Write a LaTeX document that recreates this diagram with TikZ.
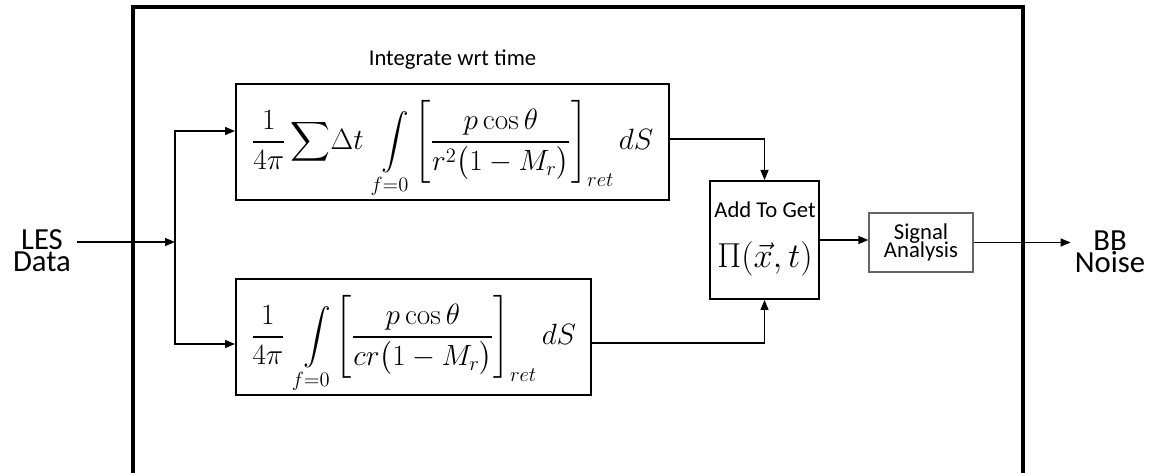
\RequirePackage{fix-cm}
\documentclass[tikz,border=0pt]{standalone}
\usepackage{amsmath}
\usepackage[no-math]{fontspec}
\setmainfont{Carlito}
\usetikzlibrary{arrows.meta,positioning}
\lineskiplimit=-\maxdimen
\tikzset{
  eqbox/.style={rectangle,draw=black,line width=1.5pt,minimum height=87pt,inner sep=0pt,
    text height=37pt,text depth=26pt,font=\fontsize{22}{26}\selectfont},
  sigbox/.style={rectangle,draw=black!60,line width=1pt,minimum width=78pt,minimum height=44.25pt,
    align=center,inner sep=0pt,font=\fontsize{17}{13.5}\selectfont},
  iolabel/.style={align=center,inner sep=0pt,font=\fontsize{23}{16.5}\selectfont},
  arrow/.style={-{Triangle[length=7.5pt,width=6pt]},line width=1pt},
  outerframe/.style={line width=2.5pt}
}

\begin{document}
\begin{tikzpicture}[x=0.75pt,y=-0.75pt]
\useasboundingbox (0,0) rectangle (1151,473);
% open frame
\draw[outerframe] (133,473) -- (133,7) -- (1023,7) -- (1023,473);
% equation blocks
\node[eqbox,minimum width=324.75pt] (sumint) at (452.5,142)
  {$\displaystyle\frac{1}{4\pi}\sum\!\Delta t\;\int\limits_{f=0}\Biggl[\frac{p\cos\theta}{r^{2}\bigl(1-M_{r}\bigr)}\Biggr]_{ret}\,dS$};
\node[eqbox,minimum width=266.25pt] (plainint) at (413.5,337)
  {$\displaystyle\frac{1}{4\pi}\;\int\limits_{f=0}\Biggl[\frac{p\cos\theta}{cr\bigl(1-M_{r}\bigr)}\Biggr]_{ret}\,dS$};
\node[font=\fontsize{17}{20}\selectfont,inner sep=0pt,above=10pt of sumint] (timelbl) {Integrate wrt time};
\node[eqbox,minimum width=81.75pt,minimum height=88.5pt] (addbox) at (764.5,240) {};
\node[anchor=base,inner sep=0pt,font=\fontsize{17}{20}\selectfont] (addlbl) at (765,218) {Add To Get};
\node[anchor=base,inner sep=0pt,font=\fontsize{26}{30}\selectfont] (pilbl) at (765,268) {$\Pi(\vec{x},t)$};
\node[sigbox] (signal) at (921,242.5) {Signal\\Analysis};
% input and output
\node[iolabel,inner sep=4.5pt] (lesdata) at (42,251) {LES\\Data};
\node[iolabel,inner sep=3pt] (bbnoise) at (1110,252) {BB\\Noise};
\coordinate (split) at (175,242);
\coordinate (in1) at ([yshift=8.25pt]sumint.west);
\coordinate (in2) at ([yshift=-5.25pt]plainint.west);
\coordinate (out1) at ([yshift=2.25pt]sumint.east);
\coordinate (out2) at ([yshift=-4.5pt]plainint.east);
\draw[arrow] (lesdata.east |- split) -- (split);
\draw[arrow] (split) |- (in1);
\draw[arrow] (split) |- (in2);
\draw[arrow] (out1) -| (addbox.north);
\draw[arrow] (out2) -| (addbox.south);
\draw[arrow] (addbox.east) -- (addbox.east -| signal.west);
\draw[arrow] (signal.east) -- (signal.east -| bbnoise.west);
\end{tikzpicture}
\end{document}
